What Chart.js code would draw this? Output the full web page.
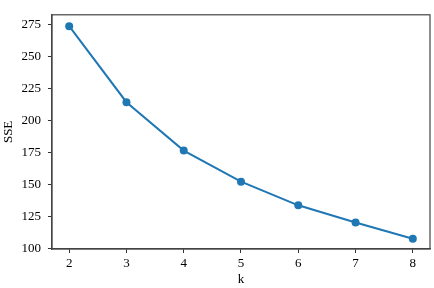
<!DOCTYPE html>
<html lang="en">
<head>
    <meta charset="UTF-8">
    <title>SSE vs k</title>
    <script src="https://cdn.jsdelivr.net/npm/chart.js"></script>
    <style>
        body { margin: 0; background: #fff; }
        canvas { display: block; }
    </style>
</head>
<body>
    <canvas id="elbowChart" width="434" height="288"></canvas>

    <script>
        // data
        const kValues = [2, 3, 4, 5, 6, 7, 8];
        const sseValues = [273.7, 214.2, 176.3, 152.0, 133.5, 120.0, 107.3];
        const xTicks = [2, 3, 4, 5, 6, 7, 8];
        const yTicks = [100, 125, 150, 175, 200, 225, 250, 275];

        const points = kValues.map((k, i) => ({ x: k, y: sseValues[i] }));
        const serif = 'Liberation Serif, Times New Roman, serif';

        // matplotlib style frame around the plot area
        const framePlugin = {
            id: 'frame',
            afterDraw(chart) {
                const { ctx, chartArea: a } = chart;
                ctx.save();
                ctx.strokeStyle = '#444';
                ctx.lineWidth = 1.2;
                ctx.strokeRect(a.left, a.top, a.right - a.left, a.bottom - a.top);
                ctx.restore();
            }
        };

        new Chart(document.getElementById('elbowChart').getContext('2d'), {
            type: 'line',
            data: {
                datasets: [{
                    data: points,
                    borderColor: '#1f77b4',
                    backgroundColor: '#1f77b4',
                    borderWidth: 2,
                    pointRadius: 4,
                    pointBorderWidth: 0,
                    tension: 0
                }]
            },
            options: {
                responsive: false,
                animation: false,
                layout: { padding: { top: 5, right: 3, left: 0, bottom: 0 } },
                plugins: {
                    legend: { display: false },
                    tooltip: { enabled: false }
                },
                scales: {
                    x: {
                        type: 'linear',
                        min: 1.7,
                        max: 8.3,
                        afterBuildTicks: s => { s.ticks = xTicks.map(v => ({ value: v })); },
                        afterFit: s => { s.height = 39; },
                        grid: { drawOnChartArea: false, tickLength: 4, tickColor: '#333' },
                        border: { color: '#444', width: 1.2 },
                        ticks: { color: '#000', padding: 3, maxRotation: 0, font: { family: serif, size: 13 } },
                        title: { display: true, text: 'k', color: '#000', padding: { top: 0, bottom: 1 }, font: { family: serif, size: 13 } }
                    },
                    y: {
                        min: 99.3,
                        max: 282.6,
                        afterBuildTicks: s => { s.ticks = yTicks.map(v => ({ value: v })); },
                        afterFit: s => { s.width = 52; },
                        grid: { drawOnChartArea: false, tickLength: 4, tickColor: '#333' },
                        border: { color: '#444', width: 1.2 },
                        ticks: { color: '#000', padding: 7, font: { family: serif, size: 13 } },
                        title: { display: true, text: 'SSE', color: '#000', padding: { top: 1, bottom: 0 }, font: { family: serif, size: 13 } }
                    }
                }
            },
            plugins: [framePlugin]
        });
    </script>
</body>
</html>
